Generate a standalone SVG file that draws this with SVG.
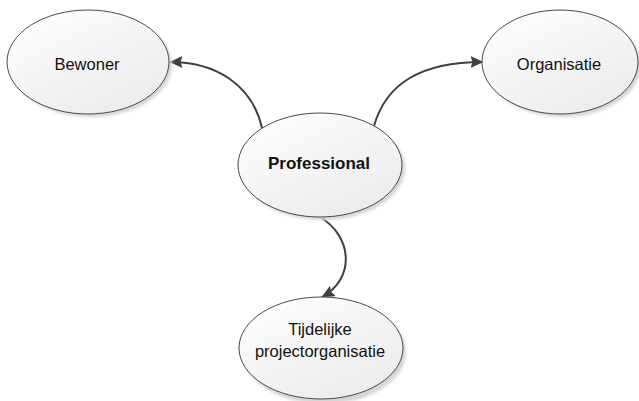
<svg xmlns="http://www.w3.org/2000/svg" width="639" height="401" viewBox="0 0 639 401">
<defs>
<linearGradient id="g" x1="0" y1="0" x2="0.7" y2="1">
<stop offset="0" stop-color="#ffffff"/>
<stop offset="1" stop-color="#ececec"/>
</linearGradient>
<filter id="sh" x="-20%" y="-20%" width="140%" height="140%">
<feGaussianBlur stdDeviation="1.5"/>
</filter>
<marker id="arr" viewBox="0 0 13 12" refX="12.5" refY="6" markerWidth="6.5" markerHeight="6" orient="auto" markerUnits="strokeWidth">
<path d="M0,0 L13,6 L0,12 L2,6 Z" fill="#404040"/>
</marker>
<style>
.sh{fill:#d6d6d6;filter:url(#sh)}
.el{fill:url(#g);stroke:#4a4a4a;stroke-width:1}
.t{font-family:"Liberation Sans",Arial,sans-serif;font-size:16.5px;fill:#111111;text-anchor:middle}
.b{font-weight:bold;font-size:17px}
.c{fill:none;stroke:#404040;stroke-width:2;marker-end:url(#arr)}
</style>
</defs>
<rect width="639" height="401" fill="#ffffff"/>
<g id="connectors">
<path class="c" d="M262,128 C252,84 215,62 170,62"/>
<path class="c" d="M374,126 C386,84 420,62 483,62"/>
<path class="c" d="M320,217 C352,236 356,278 322,297"/>
</g>
<g id="bewoner">
<ellipse class="sh" cx="91" cy="65" rx="81" ry="52"/>
<ellipse class="el" cx="88" cy="62" rx="81" ry="52"/>
<text class="t" x="87" y="70">Bewoner</text>
</g>
<g id="organisatie">
<ellipse class="sh" cx="563" cy="65" rx="78" ry="52"/>
<ellipse class="el" cx="560" cy="62" rx="78" ry="52"/>
<text class="t" x="559" y="70">Organisatie</text>
</g>
<g id="professional">
<ellipse class="sh" cx="323" cy="168" rx="82" ry="52"/>
<ellipse class="el" cx="320" cy="165" rx="82" ry="52"/>
<text class="t b" x="319" y="169">Professional</text>
</g>
<g id="tijdelijke">
<ellipse class="sh" cx="324" cy="352" rx="82" ry="52"/>
<ellipse class="el" cx="321" cy="348" rx="82" ry="51"/>
<text class="t" x="320" y="335">Tijdelijke</text>
<text class="t" x="320" y="357">projectorganisatie</text>
</g>
</svg>
